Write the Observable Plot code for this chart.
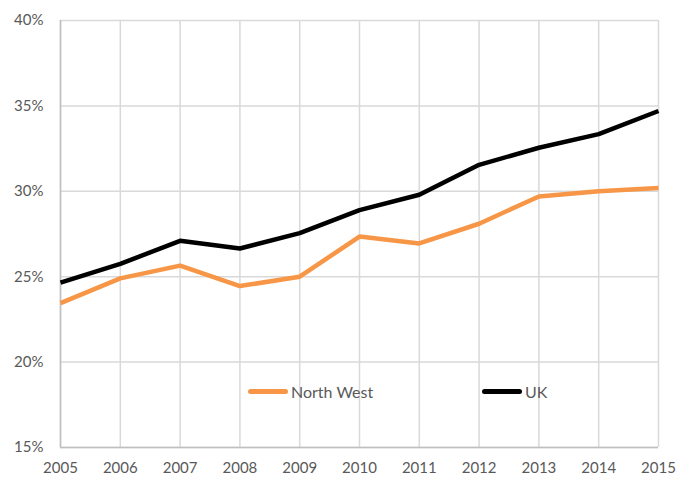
<!DOCTYPE html>
<html>
<head>
<meta charset="utf-8">
<script src="https://cdn.jsdelivr.net/npm/d3@7"></script>
<script src="https://cdn.jsdelivr.net/npm/@observablehq/plot@0.6"></script>
<style>
  html, body { margin: 0; padding: 0; background: #fff; }
  #wrap { position: relative; width: 676px; height: 481px; }
  .legend { position: absolute; top: 381px; left: 0; width: 676px; height: 20px;
            font-family: Lato, "Open Sans", sans-serif; font-size: 16px; color: #595959; }
  .item { position: absolute; display: flex; align-items: center; height: 20px; }
  .swatch { width: 40px; height: 5px; border-radius: 3px; margin-right: 3px; }
</style>
</head>
<body>
<div id="wrap"></div>
<script>
const years = [2005, 2006, 2007, 2008, 2009, 2010, 2011, 2012, 2013, 2014, 2015];
const northWest = [23.45, 24.9, 25.65, 24.45, 25.0, 27.35, 26.95, 28.1, 29.7, 30.0, 30.2];
const uk = [24.65, 25.75, 27.1, 26.65, 27.55, 28.9, 29.8, 31.55, 32.55, 33.35, 34.7];
const seriesNames = ["North West", "UK"];
const seriesColors = ["#F79646", "#000000"];
const yTicks = [15, 20, 25, 30, 35, 40];

const rows = [];
years.forEach((yr, i) => {
  rows.push({year: yr, value: northWest[i], series: seriesNames[0]});
});
years.forEach((yr, i) => {
  rows.push({year: yr, value: uk[i], series: seriesNames[1]});
});

const chart = Plot.plot({
  width: 676,
  height: 481,
  marginLeft: 60,
  marginRight: 18,
  marginTop: 20,
  marginBottom: 34,
  style: { fontFamily: "Lato, 'Open Sans', sans-serif", fontSize: "15px", color: "#595959", background: "#fff" },
  x: { type: "linear", domain: [2005, 2015], ticks: years, tickFormat: d => String(d), tickSize: 0, tickPadding: 14, label: null },
  y: { domain: [15, 40], ticks: yTicks, tickFormat: d => d + "%", tickSize: 0, tickPadding: 17, label: null },
  color: { domain: seriesNames, range: seriesColors },
  marks: [
    Plot.gridX(years, { stroke: "#d9d9d9", strokeOpacity: 1, strokeWidth: 1.5 }),
    Plot.gridY(yTicks, { stroke: "#d9d9d9", strokeOpacity: 1, strokeWidth: 1.5 }),
    Plot.ruleX([2005], { stroke: "#bfbfbf", strokeWidth: 1.5 }),
    Plot.ruleY([15], { stroke: "#bfbfbf", strokeWidth: 1.5 }),
    Plot.axisX({ ticks: years, tickFormat: d => String(d), tickSize: 0, tickPadding: 15, fill: "#595959" }),
    Plot.axisY({ ticks: yTicks, tickFormat: d => d + "%", tickSize: 0, tickPadding: 17, fill: "#595959" }),
    Plot.line(rows, { x: "year", y: "value", z: "series", stroke: "series", strokeWidth: 4.5, strokeLinejoin: "round", strokeLinecap: "butt" })
  ]
});

const wrap = document.getElementById("wrap");
wrap.appendChild(chart);

const legend = document.createElement("div");
legend.className = "legend";
const legendLeft = [248, 482];
seriesNames.forEach((name, i) => {
  const it = document.createElement("div");
  it.className = "item";
  it.style.left = legendLeft[i] + "px";
  const sw = document.createElement("span");
  sw.className = "swatch";
  sw.style.background = seriesColors[i];
  const tx = document.createElement("span");
  tx.textContent = name;
  it.appendChild(sw);
  it.appendChild(tx);
  legend.appendChild(it);
});
wrap.appendChild(legend);
</script>
</body>
</html>
